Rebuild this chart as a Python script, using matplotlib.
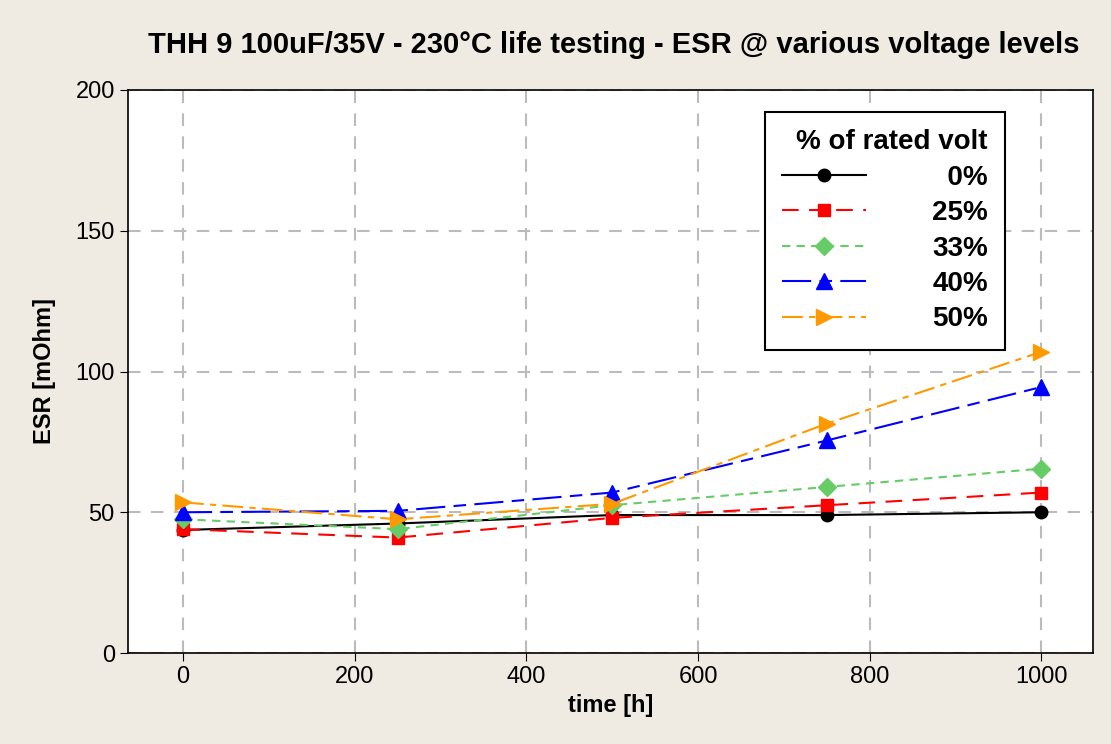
import matplotlib
matplotlib.use('Agg')
import matplotlib.pyplot as plt
from matplotlib.font_manager import FontProperties

# Data
hours = [0, 250, 500, 750, 1000]
esr_0 = [43.7, 46.0, 49.0, 49.0, 50.0]
esr_25 = [44.0, 41.0, 48.0, 52.5, 57.0]
esr_33 = [47.5, 44.0, 52.5, 59.0, 65.5]
esr_40 = [50.0, 50.5, 57.0, 75.5, 94.5]
esr_50 = [53.5, 47.5, 53.0, 81.5, 107.0]
labels = ['\u20070%', '25%', '33%', '40%', '50%']  # figure space keeps labels right-aligned

NARROW = ['Liberation Sans Narrow', 'Liberation Sans', 'DejaVu Sans']
SANS = ['Liberation Sans', 'DejaVu Sans']

fig = plt.figure(figsize=(11.11, 7.44), dpi=100, facecolor='#efebe2')
ax = fig.add_axes([128/1111, 1 - 653/744, (1093-128)/1111, (653-90)/744])
ax.set_facecolor('white')

styles = [
    (esr_0, 'black', 'o', '-', 9),
    (esr_25, '#ff0000', 's', (0, (8, 5)), 9),
    (esr_33, '#66cc66', 'D', (0, (4, 3)), 9),
    (esr_40, '#0000ff', '^', (0, (14, 4, 6, 4)), 11),
    (esr_50, '#ff9900', '>', (0, (10, 3, 3, 3)), 11),
]
handles = []
for (vals, col, mk, ls, ms), lab in zip(styles, labels):
    ln, = ax.plot(hours, vals, color=col, marker=mk, linestyle=ls, lw=1.5,
                  markersize=ms, markeredgecolor=col, label=lab)
    handles.append(ln)

ax.set_xlim(-64, 1060)
ax.set_ylim(0, 200)
ax.set_xticks([0, 200, 400, 600, 800, 1000])
ax.set_yticks([0, 50, 100, 150, 200])
ax.grid(True, color='#bbbbbb', linestyle=(0, (6, 5)), lw=1.5)
ax.set_axisbelow(True)
for s in ax.spines.values():
    s.set_color('black')
    s.set_linewidth(1.2)
ax.tick_params(labelsize=17, length=6, color='black')
for t in ax.get_xticklabels() + ax.get_yticklabels():
    t.set_family(NARROW)

ax.set_xlabel('time [h]', fontsize=17, fontweight='bold', family=SANS, labelpad=4)
ax.set_ylabel('ESR [mOhm]', fontsize=17, fontweight='bold', family=SANS, labelpad=14)
fig.text(1080/1111, 1 - 45/744, 'THH 9 100uF/35V - 230°C life testing - ESR @ various voltage levels',
         ha='right', va='center', fontsize=21, fontweight='bold', family=NARROW)

legprop = FontProperties(family=SANS, weight='bold', size=20)
leg = ax.legend(handles=handles, loc='upper left', bbox_to_anchor=((765-128)/965, 1 - (112-90)/563),
                title='% of rated volt', prop=legprop, title_fontproperties=legprop,
                frameon=True, fancybox=False, edgecolor='black', handlelength=3.0,
                borderpad=0.62, labelspacing=0.34, handletextpad=2.4, framealpha=1,
                borderaxespad=0)
leg.get_frame().set_linewidth(1.5)
leg._legend_box.align = 'right'

fig.savefig('out.png', dpi=100, facecolor=fig.get_facecolor())
